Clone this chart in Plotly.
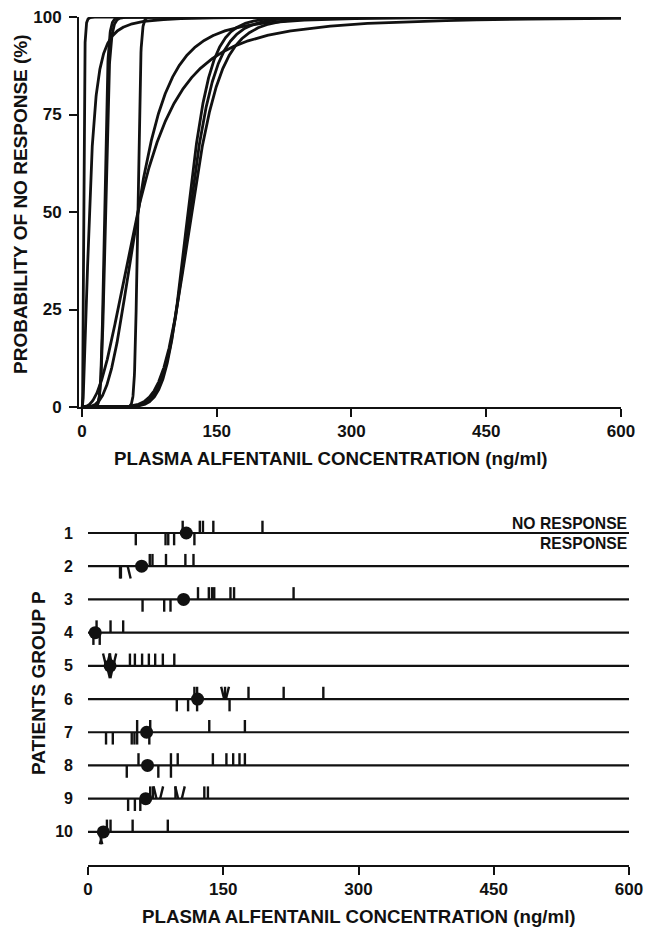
import numpy as np
import plotly.graph_objects as go

# ---------------- data ----------------
# Top panel: individual concentration-response curves (Hill form)
curve_c50 = [1.8, 8.2, 25.0, 26.0, 62.0, 62.0, 62.0, 118.0, 120.0, 122.0]
curve_gamma = [4.0, 2.1, 14.0, 12.0, 40.0, 3.5, 2.5, 9.5, 8.5, 7.5]

# Bottom panel: patients, their C50 (dots) and observed responses
patients = [1, 2, 3, 4, 5, 6, 7, 8, 9, 10]
c50_dot = [109, 59.5, 106, 8, 24.5, 121.5, 65, 66, 64, 17]
no_response = [
    [105, 124, 127.5, 139, 193.5],
    [68.5, 71.5, 86.5, 108, 117],
    [122, 134, 137.5, 140, 158, 162, 228],
    [9.5, 25, 39],
    [24.5, 46.5, 52, 60, 67.5, 74.5, 83, 95.7],
    [118, 121, 152, 178, 217, 261],
    [54.5, 69, 134.5, 174],
    [56, 92, 99.5, 138.5, 153.5, 161, 168, 174],
    [69, 72, 97, 129, 133],
    [21, 25, 49.5, 88.5],
]
response = [
    [53, 86, 89, 95.5, 118],
    [35.5, 36.5],
    [60.5, 84.5, 91.5],
    [6, 13],
    [24.5],
    [98.5, 111, 121, 157],
    [20, 27.5, 48.5, 51.5, 54.5, 68],
    [43, 78, 92],
    [44.5, 52, 58],
    [],
]
# overlapping observations drawn as slanted strokes: patient, value, side(+1 above/-1 below), lean
slant_patient = [2, 5, 5, 5, 5, 5, 5, 6, 6, 9, 9, 9, 9, 10, 10]
slant_value = [44, 20, 21, 27, 28, 21, 28, 151, 153, 76, 80, 100, 104, 12.5, 16.5]
slant_side = [-1, 1, 1, 1, 1, -1, -1, 1, 1, 1, 1, 1, 1, -1, -1]
slant_lean = [1, -1, 1, -1, 1, 1, -1, -1, 1, -1, 1, -1, 1, 1, -1]

x_ticks = [0, 150, 300, 450, 600]
y_ticks_top = [0, 25, 50, 75, 100]

# ---------------- geometry ----------------
W, H = 647, 927
def fx(px):
    return px / W
def fy(py):
    return 1 - py / H

FONT = "Liberation Sans, Arial, sans-serif"
BLACK = "#111111"

fig = go.Figure()

# top curves
xs = np.concatenate([np.linspace(0, 12, 600), np.linspace(12, 600, 2400)])
for c50, g in zip(curve_c50, curve_gamma):
    with np.errstate(divide="ignore"):
        p = np.where(xs > 0, 100.0 / (1.0 + (c50 / np.maximum(xs, 1e-9)) ** g), 0.0)
    fig.add_trace(go.Scatter(x=xs, y=p, mode="lines", xaxis="x", yaxis="y",
                             line=dict(color=BLACK, width=2.8), cliponaxis=False,
                             hoverinfo="skip", showlegend=False))

# bottom: row lines
lx, ly = [], []
for r in patients:
    lx += [0, 600, None]
    ly += [r, r, None]
fig.add_trace(go.Scatter(x=lx, y=ly, mode="lines", xaxis="x2", yaxis="y2",
                         line=dict(color=BLACK, width=2.2), cliponaxis=False,
                         hoverinfo="skip", showlegend=False))

TL = 0.37   # tick length in row units
LEAN = 3.3  # lean in concentration units
tx, ty = [], []
for r, vals in zip(patients, no_response):
    for v in vals:
        tx += [v, v, None]
        ty += [r, r - TL, None]
for r, vals in zip(patients, response):
    for v in vals:
        tx += [v, v, None]
        ty += [r, r + TL, None]
for r, v, s, l in zip(slant_patient, slant_value, slant_side, slant_lean):
    tx += [v, v + l * LEAN, None]
    ty += [r, r - TL if s > 0 else r + TL, None]
fig.add_trace(go.Scatter(x=tx, y=ty, mode="lines", xaxis="x2", yaxis="y2",
                         line=dict(color=BLACK, width=2.4), cliponaxis=False,
                         hoverinfo="skip", showlegend=False))

fig.add_trace(go.Scatter(x=c50_dot, y=patients, mode="markers", xaxis="x2", yaxis="y2",
                         marker=dict(color=BLACK, size=13), cliponaxis=False,
                         hoverinfo="skip", showlegend=False))

tickfont = dict(family=FONT, size=17, color=BLACK, weight="bold")
axline = dict(showline=True, linecolor=BLACK, linewidth=2, ticks="outside",
              ticklen=8, tickwidth=2, tickcolor=BLACK, showgrid=False, zeroline=False,
              automargin=False)

fig.update_layout(
    template="none",
    width=W, height=H, margin=dict(l=0, r=0, t=0, b=0, pad=0, autoexpand=False),
    paper_bgcolor="white", plot_bgcolor="white", showlegend=False,
    font=dict(family=FONT, color=BLACK),
    xaxis=dict(domain=[fx(79), fx(621)], range=[-3.3, 600], anchor="y",
               tickvals=x_ticks, tickfont=tickfont, ticklabelstandoff=0, **axline),
    yaxis=dict(domain=[fy(407), fy(17)], range=[0, 100], anchor="x",
               tickvals=y_ticks_top, tickfont=tickfont, ticklabelstandoff=4, **axline),
    xaxis2=dict(domain=[fx(88), fx(629)], range=[0, 600], anchor="y2",
                tickvals=x_ticks, tickfont=tickfont, ticklabelstandoff=-1, **axline),
    yaxis2=dict(domain=[fy(865.1), fy(499.8)], range=[11, 0], anchor="x2",
                tickvals=patients, ticktext=[str(p) for p in patients],
                tickfont=dict(family=FONT, size=16, color=BLACK, weight="bold"),
                showline=False, ticks="", showgrid=False, zeroline=False,
                ticklabelstandoff=14, automargin=False),
)

titlefont_x = dict(family=FONT, size=18.7, color=BLACK, weight="bold")
titlefont_y = dict(family=FONT, size=19, color=BLACK, weight="bold")
ann = [
    dict(text="PROBABILITY OF NO RESPONSE (%)", x=fx(20), y=fy(204), textangle=-90,
         font=titlefont_y),
    dict(text="PLASMA ALFENTANIL CONCENTRATION (ng/ml)", x=fx(331), y=fy(458),
         font=titlefont_x),
    dict(text="PATIENTS GROUP P", x=fx(38), y=fy(683), textangle=-90,
         font=titlefont_y),
    dict(text="PLASMA ALFENTANIL CONCENTRATION (ng/ml)", x=fx(359), y=fy(916),
         font=titlefont_x),
]
for a in ann:
    a.update(xref="paper", yref="paper", showarrow=False, xanchor="center", yanchor="middle")
    fig.add_annotation(**a)
fig.add_annotation(text="NO RESPONSE", x=600, y=1, xref="x2", yref="y2",
                   xanchor="right", yanchor="middle", yshift=10, showarrow=False,
                   font=dict(family=FONT, size=15.7, color=BLACK, weight="bold"))
fig.add_annotation(text="RESPONSE", x=600, y=1, xref="x2", yref="y2",
                   xanchor="right", yanchor="middle", yshift=-10, showarrow=False,
                   font=dict(family=FONT, size=15.7, color=BLACK, weight="bold"))

fig.write_html(
    "out.html",
    config={"displayModeBar": False},
    post_script="document.body.style.margin='0px';document.body.style.padding='0px';"
                "document.body.style.overflow='hidden';",
)
